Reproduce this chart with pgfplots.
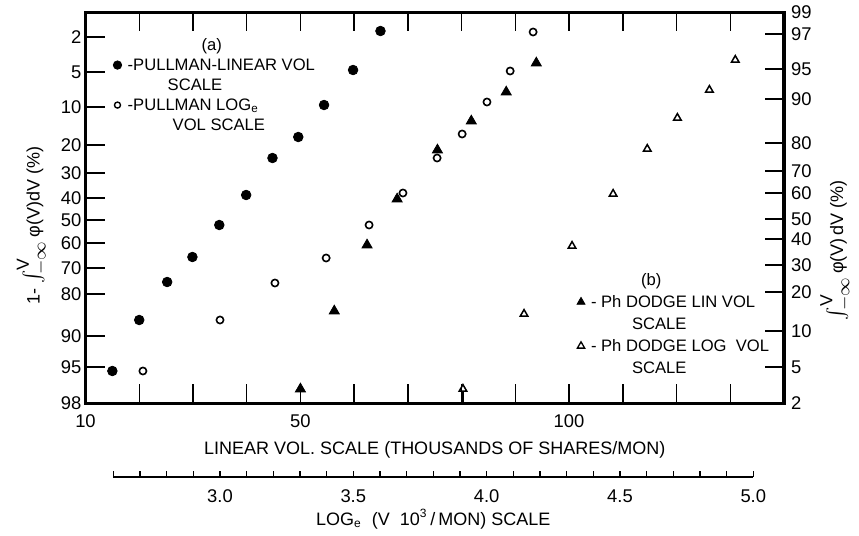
\documentclass[border=0pt]{standalone}
\usepackage{pgfplots}
\pgfplotsset{compat=1.18}
\usepackage{fontspec}
\setmainfont{Liberation Sans}

% y values are rows on the probability grid (row 12 = top, row 403 = bottom)
\pgfplotstableread{
v     row
15.0  371
20.0  320
25.2  282
29.9  257
34.9  225
39.9  195
44.8  158
49.6  137
54.4  105
59.8  70
64.9  31
}\pullmanlin
\pgfplotstableread{
lnv   row
2.711 371
3.000 320
3.206 283
3.398 258
3.559 225
3.686 193
3.814 158
3.908 134
4.001 102
4.088 71
4.174 32
}\pullmanlog
\pgfplotstableread{
v     row
50.0  389
56.3  311
62.4  245
68.0  199
75.5  150
81.8  121
88.3  92
93.9  63
}\dodgelin
\pgfplotstableread{
lnv   row
3.911 389
4.140 314
4.320 246
4.474 194
4.602 149
4.715 118
4.835 90
4.932 60
}\dodgelog

\newcommand{\intlim}{{\fontsize{12.5}{13}\selectfont$\int_{-\infty}^{\mathrm{V}}$}}

\pgfplotsset{
  pframe/.style={scale only axis, width=349.25pt, height=195.5pt,
    at={(42.75pt,66.5pt)}, anchor=south west,
    y dir=reverse, ymin=12, ymax=403, clip=false},
  legbox/.style={draw=none, fill=none, inner sep=0pt, outer sep=0pt,
    row sep=0pt, column sep=3pt, font=\fontsize{8.3}{10}\selectfont},
}

\begin{document}
\begin{tikzpicture}
\useasboundingbox (0,0) rectangle (429.5pt,268pt);

% linear volume scale: frame, filled symbols, legend (a)
\begin{axis}[pframe, xmin=10, xmax=140,
  axis line style={line width=1.5pt},
  every tick/.style={black, line width=0.7pt},
  major tick length=9.5pt, tick align=inside,
  xtick={10,20,...,140}, xticklabels={10,,,,50,,,,,100},
  ytick pos=left,
  ytick={37,72,107,145,173,198,220,243,268,294,336,367,403},
  yticklabels={2,5,10,20,30,40,50,60,70,80,90,95,98},
  tick label style={font=\fontsize{9.2}{10}\selectfont},
  xticklabel style={yshift=-2.5pt},
  yticklabel style={xshift=1.5pt},
  xlabel={LINEAR VOL.\ SCALE (THOUSANDS OF SHARES/MON)},
  xlabel style={at={(axis description cs:0.5,-0.12)}, anchor=center,
    font=\fontsize{9}{10}\selectfont},
  ylabel={1- \intlim\,φ(V)dV (\%)},
  ylabel style={at={(axis description cs:-0.0765,0.453)}, anchor=center,
    font=\fontsize{9}{10}\selectfont},
  legend style={legbox, at={(0.0398,0.941)}, anchor=north west,
    nodes={inner sep=0pt, text height=7.5pt, text depth=2.5pt}},
  legend cell align=left,
  legend image code/.code={\draw[#1] plot coordinates {(0pt,0pt)};},
]
\addplot[forget plot, only marks, mark=*, mark size=2.4pt, black,
  mark options={fill=black}] table[x=v, y=row] {\pullmanlin};
\addplot[forget plot, only marks, mark=triangle*, mark size=2.9pt, black,
  mark options={fill=black}] table[x=v, y=row] {\dodgelin};
\addplot[forget plot, black, line width=0.7pt] coordinates {(50,392) (50,403)};

\addlegendimage{empty legend}
\addlegendentry{\hspace*{37pt}(a)}
\addlegendimage{only marks, black, mark=*, mark size=2.1pt, mark options={fill=black}}
\addlegendentry{-PULLMAN-LINEAR VOL}
\addlegendimage{empty legend}
\addlegendentry{\hspace*{20pt}SCALE}
\addlegendimage{only marks, black, mark=o, mark size=1.5pt, line width=0.7pt}
\addlegendentry{-PULLMAN LOG\textsubscript{e}}
\addlegendimage{empty legend}
\addlegendentry{\hspace*{22.5pt}VOL SCALE}
\end{axis}

% log_e volume scale: open symbols, legend (b)
\begin{axis}[pframe, xmin=2.4957, xmax=5.1147, hide axis,
  legend style={legbox, at={(0.7037,0.3427)}, anchor=north west,
    nodes={inner sep=0pt, text height=8pt, text depth=3pt}},
  legend cell align=left,
  legend image code/.code={\draw[#1] plot coordinates {(0pt,0pt)};},
]
\addplot[forget plot, only marks, mark=o, mark size=1.8pt, black,
  line width=0.8pt] table[x=lnv, y=row] {\pullmanlog};
\addplot[forget plot, only marks, mark=triangle, mark size=2.2pt, black,
  line width=0.75pt, mark options={fill=white}] table[x=lnv, y=row] {\dodgelog};
\addplot[forget plot, black, line width=0.7pt] coordinates {(3.911,392) (3.911,403)};

\addlegendimage{empty legend}
\addlegendentry{\hspace*{25pt}(b)}
\addlegendimage{only marks, black, mark=triangle*, mark size=2.3pt, mark options={fill=black}}
\addlegendentry{- Ph DODGE LIN VOL}
\addlegendimage{empty legend}
\addlegendentry{\hspace*{20.5pt}SCALE}
\addlegendimage{only marks, black, mark=triangle, mark size=2.1pt, line width=0.65pt}
\addlegendentry{- Ph DODGE LOG\ \ VOL}
\addlegendimage{empty legend}
\addlegendentry{\hspace*{20.5pt}SCALE}
\end{axis}

% right-hand probability scale
\begin{axis}[pframe, xmin=0, xmax=1,
  axis x line=none, axis y line*=right,
  axis line style={line width=1.5pt},
  every tick/.style={black, line width=0.7pt},
  major tick length=9.5pt, tick align=inside,
  ytick={12,34,69,99,143,171,193,219,239,265,292,331,367,403},
  yticklabels={99,97,95,90,80,70,60,50,40,30,20,10,5,2},
  tick label style={font=\fontsize{9.2}{10}\selectfont},
  ylabel={\intlim\,φ(V)\,dV (\%)},
  ylabel style={at={(axis description cs:1.074,0.391)}, anchor=center,
    font=\fontsize{9}{10}\selectfont},
]
\addplot[draw=none] coordinates {(0.5,200)};
\end{axis}

% separate log_e scale under the chart
\begin{axis}[scale only axis, width=320pt, height=10pt,
  at={(56.65pt,29.5pt)}, anchor=south west,
  xmin=2.6, xmax=5.0, ymin=0, ymax=1,
  axis y line=none, axis x line*=bottom,
  axis line style={line width=1pt},
  every tick/.style={black, line width=0.6pt},
  tick align=inside, major tick length=3pt, minor tick length=3pt,
  xtick={3,3.5,4,4.5,5}, xticklabels={3.0,3.5,4.0,4.5,5.0},
  minor xtick={2.6,2.7,2.8,2.9,3.1,3.2,3.3,3.4,3.6,3.7,3.8,3.9,4.1,4.2,4.3,4.4,4.6,4.7,4.8,4.9},
  tick label style={font=\fontsize{9.2}{10}\selectfont},
  xticklabel style={yshift=-3pt},
  xlabel={LOG\textsubscript{e}\ \ (V\ \ 10\textsuperscript{3}\,/\,MON)\ SCALE},
  xlabel style={at={(axis description cs:0.5,-2.1)}, anchor=center,
    font=\fontsize{9}{10}\selectfont},
]
\addplot[draw=none] coordinates {(3,0.5)};
\end{axis}
\end{tikzpicture}
\end{document}
